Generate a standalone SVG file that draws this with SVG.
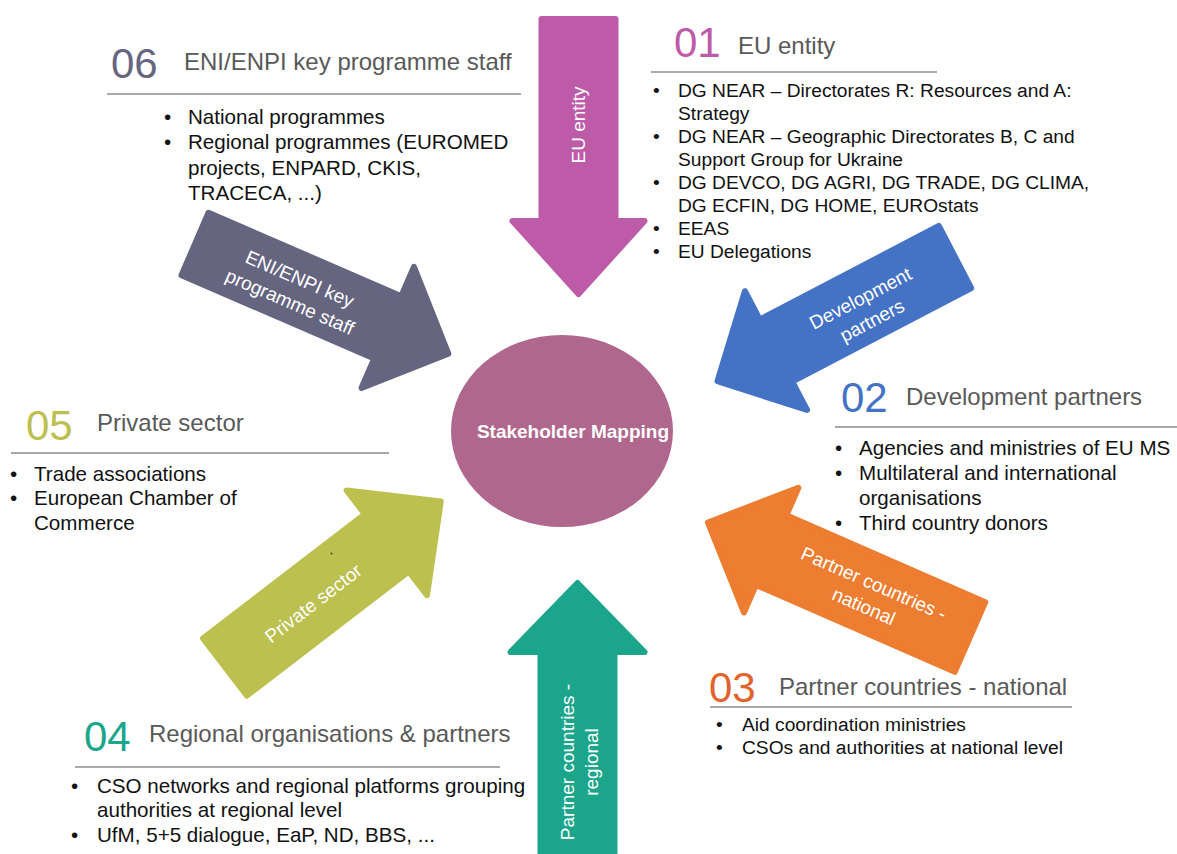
<svg xmlns="http://www.w3.org/2000/svg" width="1177" height="854" viewBox="0 0 1177 854">
<style>
text{font-family:"Liberation Sans",Arial,sans-serif}
.num{font-size:42px}
.ttl{font-size:24px;fill:#595959}
.bl{font-size:20.6px;fill:#111}
.bs{font-size:19.2px;fill:#111}
.rule{stroke:#555;stroke-width:1.2}
.lbl{font-size:19px;fill:#fff;text-anchor:middle}
.arr{stroke-width:6;stroke-linejoin:round}
</style>
<rect width="1177" height="854" fill="#fff"/>
<g id="connectors">
<g id="arrow-eu" transform="translate(578.5,19) rotate(90)">
<polygon class="arr" fill="#BD5BA9" stroke="#BD5BA9" points="0,-37 202,-37 202,-66 275,0 202,66 202,37 0,37"/>
</g>
<g id="arrow-eni" transform="translate(195,244) rotate(23.4)">
<polygon class="arr" fill="#656580" stroke="#656580" points="0,-34 210,-34 210,-66 276,0 210,66 210,34 0,34"/>
</g>
<g id="arrow-dev" transform="translate(955,257) rotate(152.4)">
<polygon class="arr" fill="#4472C4" stroke="#4472C4" points="0,-35 202,-35 202,-67 268,0 202,67 202,35 0,35"/>
</g>
<g id="arrow-nat" transform="translate(970,637) rotate(203.6)">
<polygon class="arr" fill="#ED7D31" stroke="#ED7D31" points="0,-38 217,-38 217,-68 286,0 217,68 217,38 0,38"/>
</g>
<g id="arrow-priv" transform="translate(225,667) rotate(-37.5)">
<polygon class="arr" fill="#BBC04F" stroke="#BBC04F" points="0,-36 204,-36 204,-66 272,0 204,66 204,36 0,36"/>
</g>
<g id="arrow-reg" transform="translate(577.5,870) rotate(-90)">
<polygon class="arr" fill="#1BA68C" stroke="#1BA68C" points="0,-37 218,-37 218,-67 287,0 218,67 218,37 0,37"/>
</g>
<g transform="translate(578,125) rotate(-90)"><text class="lbl" x="0" y="7">EU entity</text></g>
<g transform="translate(295,290) rotate(23.4)"><text class="lbl" x="0" y="-5.5">ENI/ENPI key</text><text class="lbl" x="0" y="19.5">programme staff</text></g>
<g transform="translate(866,309) rotate(-27.6)"><text class="lbl" x="0" y="-5.5">Development</text><text class="lbl" x="0" y="19.5">partners</text></g>
<g transform="translate(869,594.5) rotate(23.6)"><text class="lbl" x="0" y="-5.5">Partner countries -</text><text class="lbl" x="0" y="19.5">national</text></g>
<g transform="translate(313,603) rotate(-37.5)"><text class="lbl" x="0" y="7">Private sector</text></g>
<g transform="translate(579,762) rotate(-90)"><text class="lbl" x="0" y="-5">Partner countries -</text><text class="lbl" x="0" y="19">regional</text></g>
<circle cx="331.5" cy="553.5" r="1" fill="#444"/>
</g>
<g id="center">
<ellipse cx="562" cy="431" rx="111" ry="96" fill="#B0678D"/>
<text x="573" y="438" font-size="19" font-weight="bold" fill="#fff" text-anchor="middle">Stakeholder Mapping</text>
</g>
<g id="s06">
<text class="num" x="111" y="78" fill="#666680">06</text>
<text class="ttl" x="184" y="70">ENI/ENPI key programme staff</text>
<line class="rule" x1="107" y1="94" x2="521" y2="94"/>
<text class="bl" x="164" y="124">•</text><text class="bl" x="188" y="124">National programmes</text>
<text class="bl" x="164" y="149">•</text><text class="bl" x="188" y="149">Regional programmes (EUROMED</text>
<text class="bl" x="188" y="175">projects, ENPARD, CKIS,</text>
<text class="bl" x="188" y="200">TRACECA, ...)</text>
</g>
<g id="s01">
<text class="num" x="674" y="57" fill="#BD5BA9">01</text>
<text class="ttl" x="738" y="54">EU entity</text>
<line class="rule" x1="651" y1="72" x2="937" y2="72"/>
<text class="bs" x="653" y="97">•</text><text class="bs" x="678" y="97">DG NEAR – Directorates R: Resources and A:</text>
<text class="bs" x="678" y="120">Strategy</text>
<text class="bs" x="653" y="143">•</text><text class="bs" x="678" y="143">DG NEAR – Geographic Directorates B, C and</text>
<text class="bs" x="678" y="166">Support Group for Ukraine</text>
<text class="bs" x="653" y="189">•</text><text class="bs" x="678" y="189">DG DEVCO, DG AGRI, DG TRADE, DG CLIMA,</text>
<text class="bs" x="678" y="212">DG ECFIN, DG HOME, EUROstats</text>
<text class="bs" x="653" y="235">•</text><text class="bs" x="678" y="235">EEAS</text>
<text class="bs" x="653" y="258">•</text><text class="bs" x="678" y="258">EU Delegations</text>
</g>
<g id="s02">
<text class="num" x="841" y="412" fill="#4472C4">02</text>
<text class="ttl" x="906" y="405">Development partners</text>
<line class="rule" x1="835" y1="427" x2="1177" y2="427"/>
<text class="bl" x="835" y="455">•</text><text class="bl" x="859" y="455">Agencies and ministries of EU MS</text>
<text class="bl" x="835" y="480">•</text><text class="bl" x="859" y="480">Multilateral and international</text>
<text class="bl" x="859" y="505">organisations</text>
<text class="bl" x="835" y="530">•</text><text class="bl" x="859" y="530">Third country donors</text>
</g>
<g id="s03">
<text class="num" x="709" y="702" fill="#E2632B">03</text>
<text class="ttl" x="779" y="695">Partner countries - national</text>
<line class="rule" x1="710" y1="707" x2="1072" y2="707"/>
<text class="bs" x="716" y="731">•</text><text class="bs" x="742" y="731">Aid coordination ministries</text>
<text class="bs" x="716" y="754">•</text><text class="bs" x="742" y="754">CSOs and authorities at national level</text>
</g>
<g id="s04">
<text class="num" x="84" y="751" fill="#1BA68C">04</text>
<text class="ttl" x="149" y="742">Regional organisations &amp; partners</text>
<line class="rule" x1="75" y1="767" x2="500" y2="767"/>
<text class="bl" x="71" y="793">•</text><text class="bl" x="97" y="793">CSO networks and regional platforms grouping</text>
<text class="bl" x="97" y="817">authorities at regional level</text>
<text class="bl" x="71" y="842">•</text><text class="bl" x="97" y="842">UfM, 5+5 dialogue, EaP, ND, BBS, ...</text>
</g>
<g id="s05">
<text class="num" x="26" y="440" fill="#BBC04F">05</text>
<text class="ttl" x="97" y="431">Private sector</text>
<line class="rule" x1="11" y1="453" x2="389" y2="453"/>
<text class="bl" x="10" y="481">•</text><text class="bl" x="34" y="481">Trade associations</text>
<text class="bl" x="10" y="505">•</text><text class="bl" x="34" y="505">European Chamber of</text>
<text class="bl" x="34" y="530">Commerce</text>
</g>
</svg>
